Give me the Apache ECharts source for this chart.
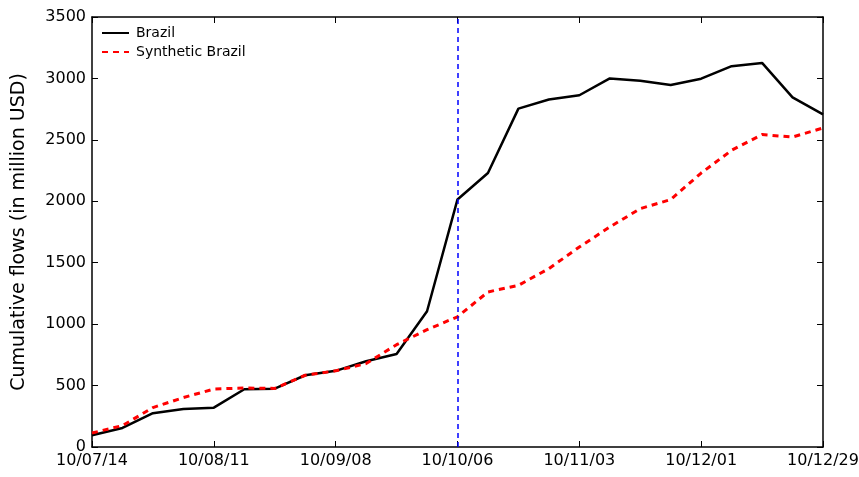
<!DOCTYPE html>
<html>
<head>
<meta charset="utf-8">
<script src="https://cdn.jsdelivr.net/npm/echarts@6/dist/echarts.min.js"></script>
<style>
html,body{margin:0;padding:0;background:#fff;}
#chart{width:859px;height:477px;}
</style>
</head>
<body>
<div id="chart"></div>
<script>
var weeks = ["10/07/14","10/07/21","10/07/28","10/08/04","10/08/11","10/08/18","10/08/25","10/09/01","10/09/08","10/09/15","10/09/22","10/09/29","10/10/06","10/10/13","10/10/20","10/10/27","10/11/03","10/11/10","10/11/17","10/11/24","10/12/01","10/12/08","10/12/15","10/12/22","10/12/29"];
var brazil = [95,155,275,310,320,470,475,584,620,698,757,1105,2015,2230,2754,2828,2863,3000,2982,2947,2998,3100,3126,2846,2708];
var synthetic = [114,174,321,402,472,480,477,584,620,679,833,955,1060,1262,1316,1452,1628,1791,1940,2014,2230,2415,2543,2523,2597];
var treatmentDate = "10/10/06";

var font = "DejaVu Sans, Verdana, sans-serif";
var chart = echarts.init(document.getElementById('chart'), null, {renderer:'canvas'});
var axisLineStyle = {color:'#000', width:1.5};
chart.setOption({
  animation:false,
  backgroundColor:'#fff',
  grid:{left:92, right:36, top:17, bottom:30, containLabel:false, outerBoundsMode:'none'},
  legend:{
    left:101, top:26, padding:0, orient:'vertical', itemWidth:27, itemHeight:14, itemGap:5,
    itemStyle:{opacity:0},
    textStyle:{fontFamily:font, fontSize:14, color:'#000', padding:[0,0,0,2]},
    data:['Brazil','Synthetic Brazil']
  },
  xAxis:[{
    type:'category', data:weeks, boundaryGap:false, position:'bottom',
    axisLine:{show:true, onZero:false, lineStyle:axisLineStyle},
    axisTick:{show:true, inside:true, interval:3, length:6, lineStyle:{color:'#000', width:1}},
    axisLabel:{interval:3, fontFamily:font, fontSize:16, color:'#000', margin:6, showMaxLabel:true, hideOverlap:false},
    splitLine:{show:false}
  },{
    type:'category', data:weeks, boundaryGap:false, position:'top',
    axisLine:{show:true, onZero:false, lineStyle:axisLineStyle},
    axisTick:{show:true, inside:true, interval:3, length:6, lineStyle:{color:'#000', width:1}},
    axisLabel:{show:false}, splitLine:{show:false}
  }],
  yAxis:[{
    type:'value', min:0, max:3500, interval:500, position:'left',
    name:'Cumulative flows (in million USD)', nameLocation:'middle', nameGap:63,
    nameTextStyle:{fontFamily:font, fontSize:19, color:'#000'},
    axisLine:{show:true, lineStyle:axisLineStyle},
    axisTick:{show:true, inside:true, length:6, lineStyle:{color:'#000', width:1}},
    axisLabel:{fontFamily:font, fontSize:16, color:'#000', margin:6, formatter:function(v){return String(v);}},
    splitLine:{show:false}
  },{
    type:'value', min:0, max:3500, interval:500, position:'right',
    axisLine:{show:true, lineStyle:axisLineStyle},
    axisTick:{show:true, inside:true, length:6, lineStyle:{color:'#000', width:1}},
    axisLabel:{show:false}, splitLine:{show:false}
  }],
  series:[{
    name:'Brazil', type:'line', data:brazil, xAxisIndex:0, yAxisIndex:0,
    showSymbol:false,
    lineStyle:{color:'#000', width:2.5}, itemStyle:{color:'#000'},
    markLine:{
      silent:true, symbol:['none','none'], label:{show:false},
      lineStyle:{color:'#0000ff', type:[5,4], width:1.5},
      data:[{xAxis:treatmentDate}]
    },
    z:3
  },{
    name:'Synthetic Brazil', type:'line', data:synthetic, xAxisIndex:0, yAxisIndex:0,
    showSymbol:false,
    lineStyle:{color:'#ff0000', width:3, type:[6,5]}, itemStyle:{color:'#ff0000'},
    z:4
  }]
});
</script>
</body>
</html>
